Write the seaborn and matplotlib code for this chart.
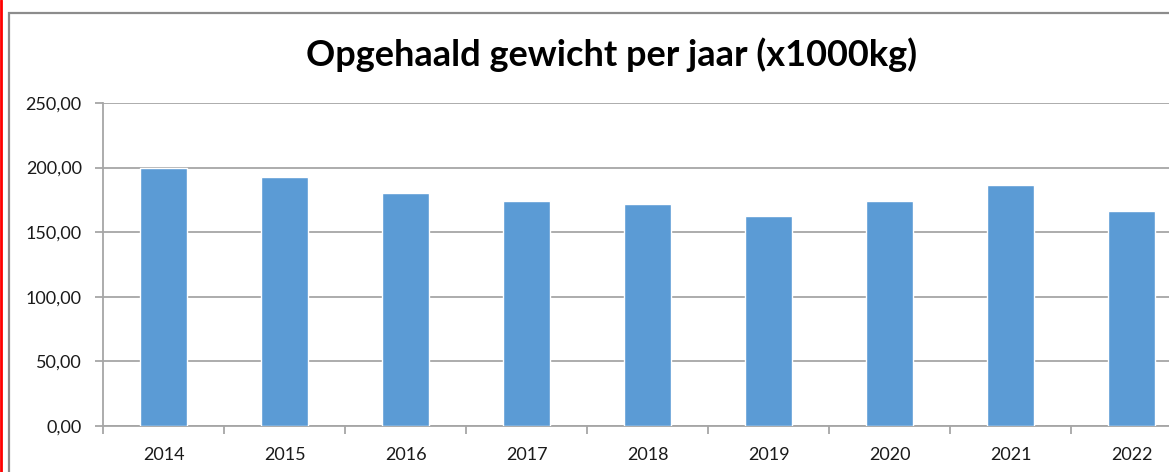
import matplotlib
matplotlib.use("Agg")
import matplotlib.pyplot as plt
import seaborn as sns
import pandas as pd
from matplotlib.patches import Rectangle
from matplotlib.lines import Line2D
from matplotlib.ticker import FuncFormatter, FixedLocator

years = ["2014", "2015", "2016", "2017", "2018", "2019", "2020", "2021", "2022"]
weights = [199.8, 193.0, 180.2, 174.3, 171.5, 162.8, 174.3, 186.6, 166.6]
title = "Opgehaald gewicht per jaar (x1000kg)"

sns.set_theme(style="white")
plt.rcParams['font.family'] = ['Lato', 'DejaVu Sans']

W, H = 1169, 472
fig = plt.figure(figsize=(W / 100, H / 100), dpi=100)
fig.patch.set_facecolor("white")

# chart border and red edge
fig.add_artist(Rectangle((8.5 / W, -0.1), 2.0, (H - 12.5) / H + 0.1,
                         transform=fig.transFigure, fill=False,
                         edgecolor="#8c8c8c", linewidth=1.6))
fig.add_artist(Line2D([1.0 / W, 1.0 / W], [0, 1], transform=fig.transFigure,
                      color="#ff0000", linewidth=2.0))

left = 103.3 / W
right = 1192 / W
bottom = (H - 426) / H
top = (H - 103) / H
ax = fig.add_axes([left, bottom, right - left, top - bottom])

df = pd.DataFrame({"jaar": years, "gewicht": weights})
sns.barplot(data=df, x="jaar", y="gewicht", color="#5B9BD5", width=0.39,
            saturation=1, ax=ax, zorder=3)

ax.set_ylim(0, 250)
ax.set_xlim(-0.5, len(years) - 0.5)
ax.set_yticks([0, 50, 100, 150, 200, 250])
ax.yaxis.set_major_formatter(FuncFormatter(lambda v, p: f"{v:.2f}".replace(".", ",")))
ax.yaxis.grid(True, color="#a6a6a6", linewidth=1.3, zorder=0)
ax.set_axisbelow(True)

ax.set_xlabel("")
ax.set_ylabel("")
for s in ["top", "right"]:
    ax.spines[s].set_visible(False)
for s in ["left", "bottom"]:
    ax.spines[s].set_color("#a6a6a6")
    ax.spines[s].set_linewidth(1.3)

ax.tick_params(axis="y", which="major", length=5.5, width=1.3, color="#a6a6a6",
               left=True, labelsize=13, labelcolor="#1a1a1a", pad=10)
ax.tick_params(axis="x", which="major", length=0, labelsize=13,
               labelcolor="#1a1a1a", pad=15)
ax.xaxis.set_minor_locator(FixedLocator([i - 0.5 for i in range(len(years) + 1)]))
ax.tick_params(axis="x", which="minor", length=6, width=1.3, color="#a6a6a6",
               bottom=True)

fig.text(612 / W, (H - 55) / H, title, ha="center", va="center",
         fontsize=26, fontweight="bold", color="black")

fig.savefig("out.png", dpi=100, facecolor="white")
